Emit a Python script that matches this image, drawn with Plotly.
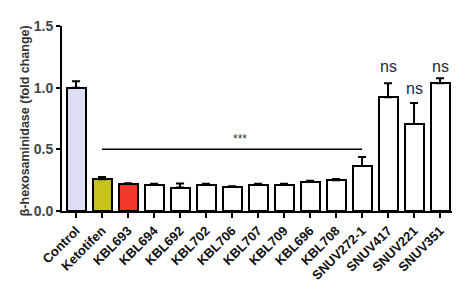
import plotly.graph_objects as go

categories = ["Control", "Ketotifen", "KBL693", "KBL694", "KBL692", "KBL702", "KBL706",
              "KBL707", "KBL709", "KBL696", "KBL708", "SNUV272-1", "SNUV417", "SNUV221", "SNUV351"]
values = [1.00, 0.258, 0.218, 0.21, 0.19, 0.21, 0.197, 0.21, 0.21, 0.237, 0.25, 0.365, 0.923, 0.705, 1.035]
err_up = [0.053, 0.018, 0.008, 0.01, 0.032, 0.01, 0.003, 0.01, 0.01, 0.008, 0.01, 0.072, 0.112, 0.17, 0.042]
colors = ["#dcdff6", "#c9c21c", "#f2382a"] + ["#ffffff"] * 12
ns_labels = [(12, 1.17), (13, 0.99), (14, 1.17)]
y_ticks = [0.0, 0.5, 1.0, 1.5]

x = list(range(len(categories)))
fig = go.Figure()
fig.add_trace(go.Bar(
    x=x, y=values, width=0.73,
    marker=dict(color=colors, line=dict(color="black", width=2)),
    error_y=dict(type="data", array=err_up, arrayminus=[0] * len(values), symmetric=False,
                 color="black", thickness=2, width=4),
    showlegend=False,
))

fig.add_shape(type="line", x0=1, x1=11, y0=0.5, y1=0.5, line=dict(color="black", width=1.5))
fig.add_annotation(x=6.3, y=0.58, text="***", showarrow=False,
                   font=dict(family="Liberation Sans", size=12, color="#333"))
for xi, yi in ns_labels:
    fig.add_annotation(x=xi, y=yi, text="ns", showarrow=False,
                       font=dict(family="Liberation Sans", size=16, color="#222a40"))

# y-axis title as rotated annotation placed close to tick labels
fig.add_annotation(xref="paper", yref="paper", x=-0.095, y=0.49, text="β-hexosaminidase (fold change)",
                   textangle=-90, showarrow=False, xanchor="center", yanchor="middle",
                   font=dict(family="Liberation Sans", size=12.5, color="#333", weight="bold"))

fig.update_layout(
    width=466, height=295,
    margin=dict(l=62, r=14, t=26, b=81),
    plot_bgcolor="white", paper_bgcolor="white",
    bargap=0,
)
fig.update_xaxes(
    range=[-0.54, 14.46], tickmode="array", tickvals=x, ticktext=categories,
    tickangle=-45, showline=True, linecolor="black", linewidth=2,
    ticks="outside", ticklen=5, tickwidth=1.5, tickcolor="black",
    tickfont=dict(family="Liberation Sans", size=13, color="#111", weight="bold"),
    showgrid=False, zeroline=False,
)
fig.update_yaxes(
    range=[0, 1.5], tickmode="array", tickvals=y_ticks, ticktext=["0.0", "0.5", "1.0", "1.5"],
    showline=True, linecolor="black", linewidth=2,
    ticks="outside", ticklen=4, tickwidth=1.5, tickcolor="black",
    tickfont=dict(family="Liberation Sans", size=14, color="#444", weight="bold"),
    showgrid=False, zeroline=False,
)

fig.write_html("out.html")
